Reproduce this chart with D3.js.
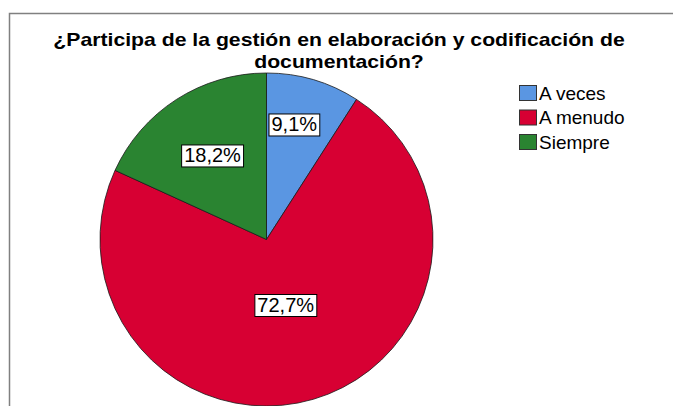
<!DOCTYPE html>
<html>
<head>
<meta charset="utf-8">
<script src="https://cdn.jsdelivr.net/npm/d3@7"></script>
<style>
  body { margin: 0; background: #fff; }
  svg { display: block; font-family: "Liberation Sans", Arial, sans-serif; }
</style>
</head>
<body>
<div id="chart"></div>
<script>
// Data
var categories = ["A veces", "A menudo", "Siempre"];
var counts = [1, 8, 2];
var percentLabels = ["9,1%", "72,7%", "18,2%"];
var colors = ["#5A96E2", "#D70033", "#2A8431"];
var titleLines = ["¿Participa de la gestión en elaboración y codificación de", "documentación?"];

var width = 673, height = 406;
var cx = 266.5, cy = 239.5, radius = 166.5;
// how far out each percent box sits, as a share of the radius
var labelRadius = [0.72, 0.41, 0.6];

var svg = d3.select("#chart").append("svg")
    .attr("width", width)
    .attr("height", height);

// frame
svg.append("path")
    .attr("d", "M9.5," + height + "V13.5H" + width)
    .attr("fill", "none")
    .attr("stroke", "#808080")
    .attr("stroke-width", 1.5);

// title: slightly smaller glyphs, stretched to the reference width
var title = svg.append("g").selectAll("text")
    .data(titleLines)
    .enter()
    .append("text")
    .attr("x", 339)
    .attr("y", function(d, i) { return 46 + i * 21.5; })
    .attr("text-anchor", "middle")
    .attr("font-size", 19)
    .attr("font-weight", "bold")
    .attr("fill", "#000")
    .text(function(d) { return d; });
title.each(function() {
  var len = this.getComputedTextLength();
  d3.select(this)
      .attr("textLength", len * 21.2 / 19)
      .attr("lengthAdjust", "spacingAndGlyphs");
});

var pie = d3.pie().sort(null).value(function(d) { return d; });
var arcs = pie(counts);
var arc = d3.arc().innerRadius(0).outerRadius(radius);

var g = svg.append("g").attr("transform", "translate(" + cx + "," + cy + ")");

g.selectAll("path")
    .data(arcs)
    .enter()
    .append("path")
    .attr("d", arc)
    .attr("fill", function(d, i) { return colors[i]; })
    .attr("stroke", "#1a1a1a")
    .attr("stroke-width", 0.8);

// percent labels in white boxes
var lab = g.selectAll("g.lab")
    .data(arcs)
    .enter()
    .append("g")
    .attr("class", "lab")
    .attr("transform", function(d, i) {
      var r = radius * labelRadius[i];
      var c = d3.arc().innerRadius(r).outerRadius(r).centroid(d);
      return "translate(" + (c[0] - (i == 0 ? 6 : 0)) + "," + c[1] + ")";
    });

lab.append("text")
    .attr("text-anchor", "middle")
    .attr("dy", "0.35em")
    .attr("font-size", 20)
    .attr("fill", "#000")
    .text(function(d, i) { return percentLabels[i]; });

lab.each(function() {
  var t = d3.select(this).select("text");
  var b = t.node().getBBox();
  d3.select(this).insert("rect", "text")
      .attr("x", b.x - 2.5)
      .attr("y", b.y + 0.5)
      .attr("width", b.width + 5)
      .attr("height", b.height)
      .attr("fill", "#fff")
      .attr("stroke", "#000")
      .attr("stroke-width", 1);
});

// legend
var legend = svg.append("g").attr("transform", "translate(519,85)");
var item = legend.selectAll("g")
    .data(categories)
    .enter()
    .append("g")
    .attr("transform", function(d, i) { return "translate(0," + (i * 24.5) + ")"; });

item.append("rect")
    .attr("x", 0.5)
    .attr("y", 0.5)
    .attr("width", 17)
    .attr("height", 15)
    .attr("fill", function(d, i) { return colors[i]; })
    .attr("stroke", "#333")
    .attr("stroke-width", 1);

item.append("text")
    .attr("x", 20)
    .attr("y", 14.5)
    .attr("font-size", 19)
    .attr("fill", "#000")
    .text(function(d) { return d; });
</script>
</body>
</html>
